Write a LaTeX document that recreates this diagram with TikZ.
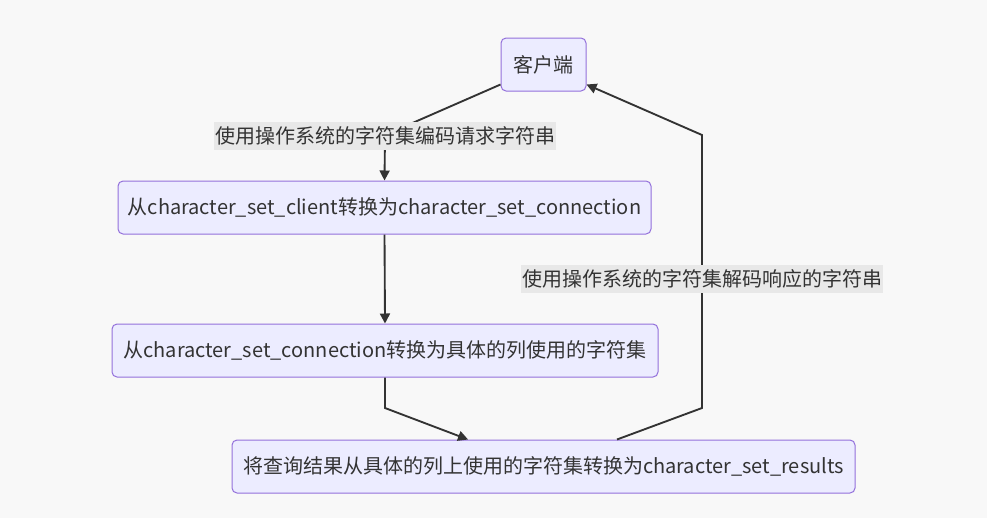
\documentclass[tikz,border=0pt]{standalone}
\usepackage{fontspec}
\setmainfont{Noto Sans CJK SC}
\usetikzlibrary{arrows.meta,calc}
\definecolor{bgc}{HTML}{F8F8F8}
\definecolor{nodefill}{HTML}{ECECFF}
\definecolor{nodeborder}{HTML}{9370DB}
\definecolor{linec}{HTML}{333333}
\definecolor{lblbg}{HTML}{E8E8E8}
\begin{document}
\begin{tikzpicture}[x=0.75pt,y=-0.75pt,
  font=\fontsize{15}{18}\selectfont,
  box/.style={draw=nodeborder, fill=nodefill, rounded corners=3.75pt, line width=0.75pt, text=linec, inner sep=0pt, minimum height=39.75pt},
  lbl/.style={fill=lblbg, inner sep=1pt, text=linec, minimum height=21pt},
  edge/.style={draw=linec, line width=1.4pt, -{Triangle[length=7.5pt,width=7.5pt]}},
  plain/.style={draw=linec, line width=1.4pt}]
\fill[bgc] (0,0) rectangle (987,518);
\useasboundingbox (0,0) rectangle (987,518);
\node[box, minimum width=63.75pt] (c) at (543.5,64.5) {客户端};
\node[box, minimum width=399.75pt] (n2) at (384.5,207.5) {从character\_set\_client转换为character\_set\_connection};
\node[box, minimum width=409.5pt] (n3) at (385,350.5) {从character\_set\_connection转换为具体的列使用的字符集};
\node[box, minimum width=467.25pt] (n4) at (543.5,466.5) {将查询结果从具体的列上使用的字符集转换为character\_set\_results};
\coordinate (b1) at (385,135);
\coordinate (b3) at (385,408);
\coordinate (b4a) at (702,408);
\coordinate (b4b) at (702,135);
\draw[edge] ([yshift=5.25pt]c.south west) -- (b1) -- (n2.north);
\draw[edge] (n2.south) -- (n3.north);
\draw[edge] (n3.south) -- (b3) -- ([xshift=-56.6pt]n4.north);
\draw[edge] ([xshift=55.1pt]n4.north) -- (b4a) -- (b4b) -- ([yshift=5.25pt]c.south east);
\node[lbl] (l1) at (385,135.5) {使用操作系统的字符集编码请求字符串};
\node[lbl] (l2) at (702,279) {使用操作系统的字符集解码响应的字符串};
\end{tikzpicture}
\end{document}
